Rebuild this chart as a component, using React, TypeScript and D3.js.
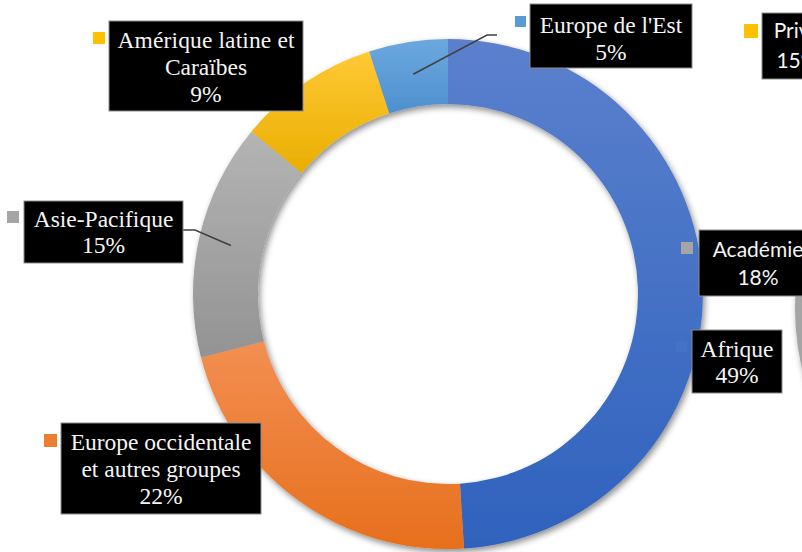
import { useEffect, useRef } from 'react';
import * as d3 from 'd3';

// main donut (regional groups), clockwise from 12 o'clock
const categories = ['Afrique', 'Europe occidentale et autres groupes', 'Asie-Pacifique', 'Amérique latine et Caraïbes', "Europe de l'Est"];
const shares = [49, 22, 15, 9, 5];

// neighbouring chart, mostly cut off on the right
const otherCategories = ['Privé', 'Académie'];
const otherShares = [15, 18];

// gradient stops per slice: [top, bottom, key colour]
const sliceColors: Record<string, [string, string, string]> = {
  'Afrique': ['#5b80cd', '#2f62bd', '#4472c4'],
  'Europe occidentale et autres groupes': ['#f28f52', '#e76f1c', '#ed7d31'],
  'Asie-Pacifique': ['#b4b4b4', '#939393', '#a5a5a5'],
  'Amérique latine et Caraïbes': ['#ffc936', '#e9ae00', '#ffc000'],
  "Europe de l'Est": ['#6ca8de', '#4d90cf', '#5b9bd5'],
};

// label boxes (layout only)
const labelLayout: Record<string, { box: [number, number, number, number]; key: [number, number, number]; lines: string[]; base: number[]; justify?: number }> = {
  'Afrique': { box: [692, 330, 90, 63], key: [676, 341, 11], lines: ['Afrique'], base: [357, 383] },
  'Europe occidentale et autres groupes': { box: [61, 423, 200, 91], key: [44, 434, 13], lines: ['Europe occidentale', 'et autres groupes'], base: [450, 477, 504] },
  'Asie-Pacifique': { box: [24, 201, 159, 62], key: [7, 211, 12], lines: ['Asie-Pacifique'], base: [227, 253] },
  'Amérique latine et Caraïbes': { box: [109, 21, 194, 90], key: [93, 32, 12], lines: ['Amérique latine et', 'Caraïbes'], base: [48, 75, 102], justify: 177 },
  "Europe de l'Est": { box: [530, 4, 162, 64], key: [515, 16, 11], lines: ["Europe de l'Est"], base: [33, 60] },
};

const otherLayout: Record<string, { box: [number, number, number, number]; key: [number, number, number]; base: number[]; color: string }> = {
  'Privé': { box: [762, 13, 70, 66], key: [744, 24, 14], base: [38, 68], color: '#ffc000' },
  'Académie': { box: [699, 230, 118, 66], key: [681, 242, 12], base: [257, 285], color: '#a5a5a5' },
};

const App = () => {
  const svgRef = useRef<SVGSVGElement>(null);

  useEffect(() => {
    document.body.style.margin = '0';
    if (!svgRef.current) return;
    const svg = d3.select(svgRef.current);
    svg.selectAll('*').remove();

    const cx = 448, cy = 294;
    const outerR = 255, innerR = 190;
    const serif = "'Liberation Serif', 'Times New Roman', serif";
    const sans = "Lato, 'Open Sans', sans-serif";

    const defs = svg.append('defs');
    const shadow = defs.append('filter').attr('id', 'shadow')
      .attr('x', '-20%').attr('y', '-20%').attr('width', '140%').attr('height', '140%');
    shadow.append('feDropShadow')
      .attr('dx', 2).attr('dy', 3).attr('stdDeviation', 3)
      .attr('flood-color', '#000').attr('flood-opacity', 0.45);

    categories.forEach((c, i) => {
      const g = defs.append('linearGradient').attr('id', `grad${i}`)
        .attr('x1', 0).attr('y1', 0).attr('x2', 0).attr('y2', 1);
      g.append('stop').attr('offset', '0%').attr('stop-color', sliceColors[c][0]);
      g.append('stop').attr('offset', '100%').attr('stop-color', sliceColors[c][1]);
    });

    const pie = d3.pie<number>().sort(null).value(d => d);
    const arcs = pie(shares);
    const arc = d3.arc<d3.PieArcDatum<number>>().innerRadius(innerR).outerRadius(outerR);

    // sliver of the neighbouring donut (Académie slice) on the right edge
    const otherArc = d3.arc<any>().innerRadius(200).outerRadius(268);
    const acadSpan = (otherShares[1] / 100) * Math.PI * 2;
    svg.append('path')
      .attr('transform', `translate(1063, 308)`)
      .attr('d', otherArc({ startAngle: 1.5 * Math.PI - acadSpan / 2, endAngle: 1.5 * Math.PI + acadSpan / 2 }))
      .attr('fill', '#a5a5a5')
      .attr('filter', 'url(#shadow)');

    const ring = svg.append('g')
      .attr('transform', `translate(${cx}, ${cy})`)
      .attr('filter', 'url(#shadow)');

    ring.selectAll('path')
      .data(arcs)
      .enter()
      .append('path')
      .attr('d', d => arc(d) as string)
      .attr('fill', (d, i) => `url(#grad${i})`);

    // leader lines for the two small outer labels
    const mid = d3.arc<d3.PieArcDatum<number>>().innerRadius((innerR + outerR) / 2).outerRadius((innerR + outerR) / 2);
    const leader = (i: number, pts: [number, number][]) => {
      const [x, y] = mid.centroid(arcs[i]);
      svg.append('path')
        .attr('d', d3.line()([[cx + x, cy + y], ...pts]))
        .attr('fill', 'none')
        .attr('stroke', '#404040')
        .attr('stroke-width', 1.5);
    };
    leader(2, [[195, 230], [183, 230]]);
    leader(4, [[487, 35], [497, 35]]);

    // data labels
    categories.forEach((c, i) => {
      const l = labelLayout[c];
      const [bx, by, bw, bh] = l.box;
      const g = svg.append('g');
      g.append('rect')
        .attr('x', l.key[0]).attr('y', l.key[1])
        .attr('width', l.key[2]).attr('height', l.key[2])
        .attr('fill', sliceColors[c][2]);
      g.append('rect')
        .attr('x', bx).attr('y', by).attr('width', bw).attr('height', bh)
        .attr('fill', '#000').attr('stroke', '#8c8c8c').attr('stroke-width', 1);
      const lines = [...l.lines, `${shares[i]}%`];
      lines.forEach((t, j) => {
        const txt = g.append('text')
          .attr('x', bx + bw / 2)
          .attr('y', l.base[j])
          .attr('text-anchor', 'middle')
          .attr('fill', '#f4f4f4')
          .attr('font-family', serif)
          .attr('font-size', '23.5px')
          .text(t);
        if (j === 0 && l.justify) {
          txt.attr('textLength', l.justify).attr('lengthAdjust', 'spacing');
        }
      });
    });

    otherCategories.forEach((c, i) => {
      const l = otherLayout[c];
      const [bx, by, bw, bh] = l.box;
      svg.append('rect')
        .attr('x', l.key[0]).attr('y', l.key[1])
        .attr('width', l.key[2]).attr('height', l.key[2])
        .attr('fill', l.color);
      svg.append('rect')
        .attr('x', bx).attr('y', by).attr('width', bw).attr('height', bh)
        .attr('fill', '#000').attr('stroke', '#8c8c8c');
      [c, `${otherShares[i]}%`].forEach((t, j) => {
        svg.append('text')
          .attr('x', bx + bw / 2)
          .attr('y', l.base[j])
          .attr('text-anchor', 'middle')
          .attr('fill', '#f4f4f4')
          .attr('font-family', sans)
          .attr('font-size', '21px')
          .text(t);
      });
    });
  }, []);

  return (
    <div style={{ width: 802, height: 552, overflow: 'hidden', background: '#fff' }}>
      <svg ref={svgRef} width={802} height={552} viewBox="0 0 802 552" />
    </div>
  );
};

export default App;
